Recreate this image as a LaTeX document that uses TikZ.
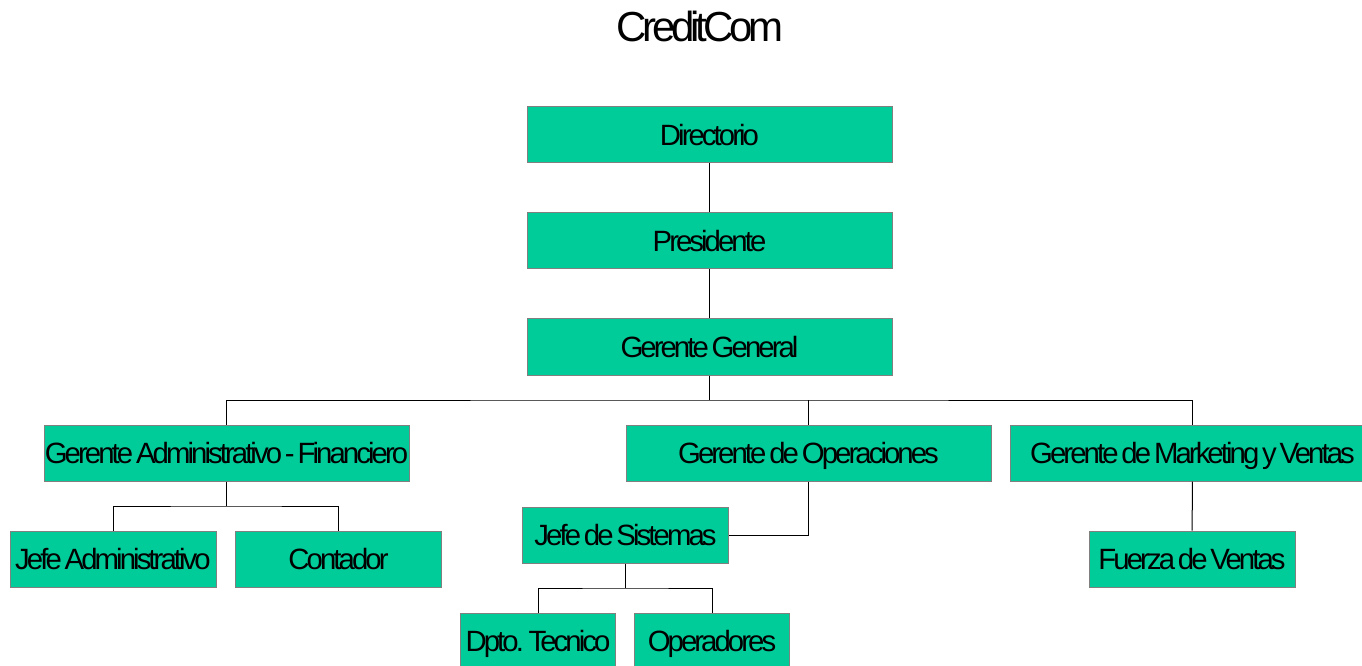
\documentclass[tikz,border=0pt]{standalone}
\usepackage{fontspec}
\setmainfont{Liberation Sans}[LetterSpace=-10,WordSpace=0.55]
\usepackage{tikz}
\usetikzlibrary{positioning,calc}
\definecolor{orggreen}{HTML}{00CC99}
\definecolor{orgframe}{HTML}{808080}

\tikzset{
    orgbox/.style={draw=orgframe, fill=orggreen, line width=0.75pt, inner sep=0pt,
        minimum height=42pt, text height=15.8pt, text depth=0pt,
        font=\fontsize{22}{26}\selectfont},
    widebox/.style={orgbox, minimum width=273.75pt},
    midbox/.style={orgbox, minimum width=154.5pt},
    smallbox/.style={orgbox, minimum width=116pt},
    link/.style={draw=black, line width=0.75pt}
}

\begin{document}
\begin{tikzpicture}[x=0.75pt,y=-0.75pt]
    \useasboundingbox (0,0) rectangle (1362,666);

    % Title
    \node[anchor=base, font=\fontsize{31.5}{36}\selectfont] (title) at (700,42) {CreditCom};

    % Top of the chart
    \node[widebox] (DIR) at (709.5,135) {Directorio};
    \node[widebox] (PRE) at (709.5,241) {Presidente};
    \node[widebox] (GG) at (709.5,347) {Gerente General};

    % Second level
    \node[widebox] (GAF) at (226.5,453) {Gerente Administrativo - Financiero};
    \node[widebox] (GO) at (808.5,453) {Gerente de Operaciones};
    \node[widebox] (GMV) at (1192.5,453) {Gerente de Marketing y Ventas};

    % Third level
    \node[midbox] (JA) at (113,559) {Jefe Administrativo};
    \node[midbox] (CON) at (338.5,559) {Contador};
    \node[midbox] (JS) at (625.5,535) {Jefe de Sistemas};
    \node[midbox] (FV) at (1192,559) {Fuerza de Ventas};

    % Fourth level
    \node[smallbox] (DT) at (538,641) {Dpto. Tecnico};
    \node[smallbox] (OP) at (712,641) {Operadores};

    % Bus points
    \coordinate (ggbus) at (709.5,400);
    \coordinate (gafbus) at (226.5,506);
    \coordinate (jsbus) at (625.5,588);

    % Connectors
    \draw[link] (DIR) -- (PRE);
    \draw[link] (PRE) -- (GG);
    \draw[link] (GG) -- (ggbus);
    \draw[link] (GAF.north) |- (ggbus) -| (GMV.north);
    \draw[link] (GO.north) -- (GO.north |- ggbus);
    \draw[link] (GAF) -- (gafbus);
    \draw[link] (JA.north) |- (gafbus) -| (CON.north);
    \draw[link] (GO.south) |- (JS.east);
    \draw[link] (JS) -- (jsbus);
    \draw[link] (DT.north) |- (jsbus) -| (OP.north);
    \draw[link] (GMV) -- (FV);
\end{tikzpicture}
\end{document}
